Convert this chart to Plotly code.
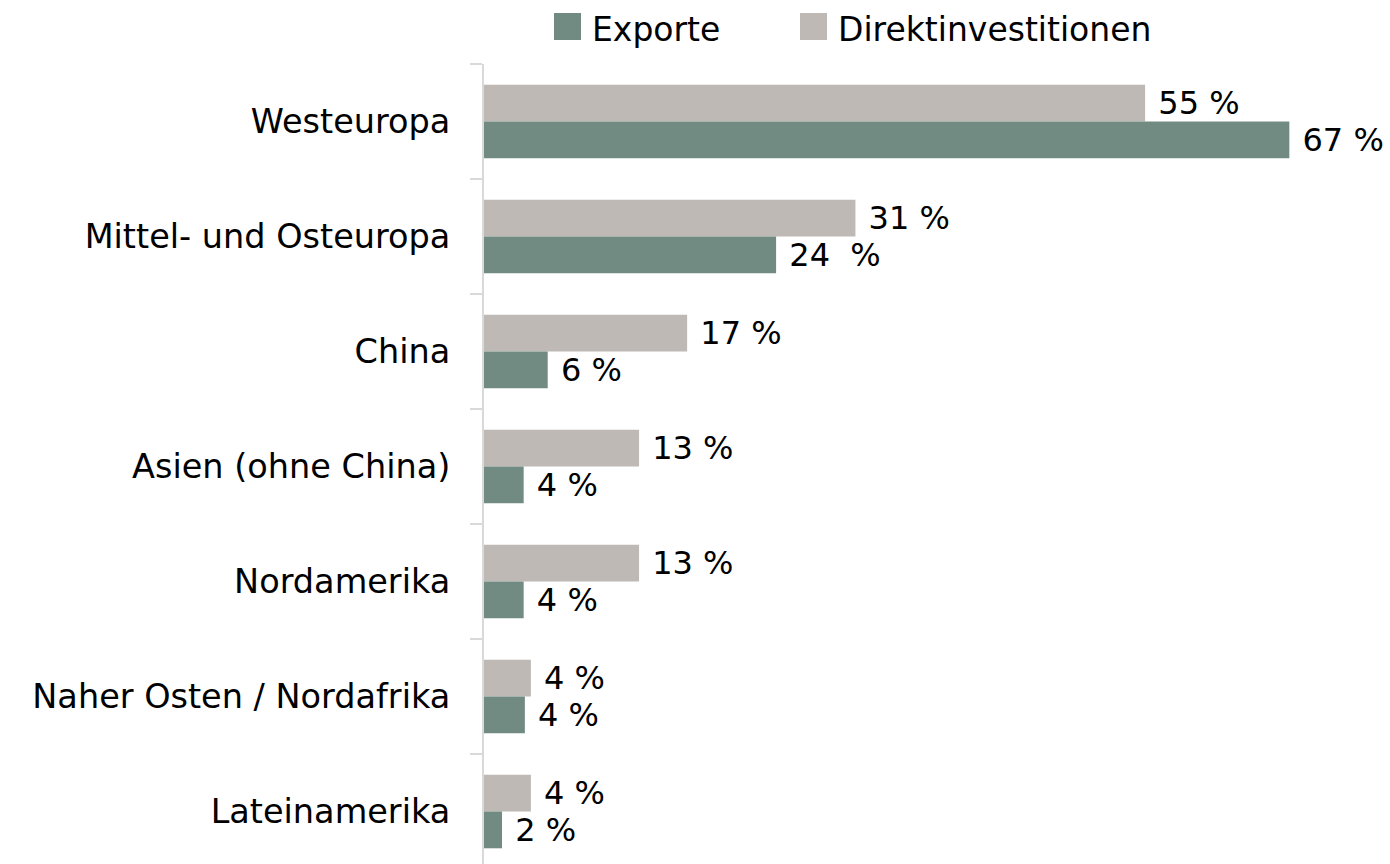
import plotly.graph_objects as go

categories = ["Westeuropa", "Mittel- und Osteuropa", "China", "Asien (ohne China)",
              "Nordamerika", "Naher Osten / Nordafrika", "Lateinamerika"]
exporte = [67, 24.3, 5.3, 3.3, 3.3, 3.4, 1.5]
direkt = [55, 30.9, 16.9, 12.9, 12.9, 3.9, 3.9]
exporte_labels = ["67 %", "24  %", "6 %", "4 %", "4 %", "4 %", "2 %"]
direkt_labels = ["55 %", "31 %", "17 %", "13 %", "13 %", "4 %", "4 %"]

GREEN = "#728B82"
GREY = "#BEB9B5"
FONT = "DejaVu Sans"
FS = 32

W, H = 1390, 864
L, R, T, B = 484, 6, 64, 0
PW, PH = W - L - R, H - T - B


def px_x(x):
    return (x - L) / PW


def px_y(y):
    return (H - B - y) / PH


fig = go.Figure()
fig.add_trace(go.Bar(
    y=categories, x=direkt, orientation="h", name="Direktinvestitionen",
    marker=dict(color=GREY, line=dict(width=0)),
    text=[" " + t for t in direkt_labels], textposition="outside",
    textfont=dict(family=FONT, size=FS, color="black"),
    cliponaxis=False, constraintext="none", showlegend=False,
))
fig.add_trace(go.Bar(
    y=categories, x=exporte, orientation="h", name="Exporte",
    marker=dict(color=GREEN, line=dict(width=0)),
    text=[" " + t for t in exporte_labels], textposition="outside",
    textfont=dict(family=FONT, size=FS, color="black"),
    cliponaxis=False, constraintext="none", showlegend=False,
))

band = 115.0
n_bands = PH / band
fig.update_layout(
    width=W, height=H,
    margin=dict(l=L, r=R, t=T, b=B, pad=0),
    paper_bgcolor="white", plot_bgcolor="white",
    barmode="group", bargap=0.36, bargroupgap=0,
    showlegend=False,
    font=dict(family=FONT, size=FS, color="black"),
    xaxis=dict(range=[0, PW / 12.02], visible=False, fixedrange=True),
    yaxis=dict(
        type="category", categoryorder="array", categoryarray=categories,
        range=[-0.5 + n_bands, -0.5],
        showline=True, linecolor="#D9D9D9", linewidth=2,
        ticks="outside", ticklen=12, tickcolor="#D9D9D9", tickwidth=1.5,
        tickson="boundaries", showgrid=False, zeroline=False,
        tickfont=dict(family=FONT, size=33.5, color="black"),
        ticklabelstandoff=25, fixedrange=True,
    ),
)

# manual legend (large square swatches)
legend_items = [("Exporte", GREEN, 554), ("Direktinvestitionen", GREY, 800)]
for name, color, x0 in legend_items:
    fig.add_shape(type="rect", xref="paper", yref="paper",
                  x0=px_x(x0), x1=px_x(x0 + 27), y0=px_y(40), y1=px_y(13),
                  fillcolor=color, line=dict(width=0), layer="above")
    fig.add_annotation(xref="paper", yref="paper", x=px_x(x0 + 36), y=px_y(29),
                       xanchor="left", yanchor="middle", showarrow=False,
                       text=name, font=dict(family=FONT, size=33, color="black"))

fig.write_html("out.html", config={"displayModeBar": False},
               post_script="document.body.style.margin='0';document.body.style.overflow='hidden';")
